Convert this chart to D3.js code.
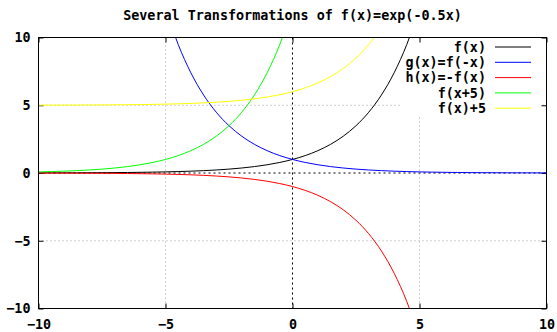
<!DOCTYPE html>
<html>
<head>
<meta charset="utf-8">
<script src="https://cdn.jsdelivr.net/npm/d3@7"></script>
<style>
  html, body { margin: 0; padding: 0; background: #fff; }
  svg text { font-family: "DejaVu Sans Mono", monospace; font-weight: bold; font-size: 13.4px; fill: #000; }
</style>
</head>
<body>
<svg id="chart" width="557" height="332"></svg>
<script>
// Sample positions along x
const xs = [-10,-9.5,-9,-8.5,-8,-7.5,-7,-6.5,-6,-5.5,-5,-4.5,-4,-3.5,-3,-2.5,-2,-1.5,-1,-0.5,
            0,0.5,1,1.5,2,2.5,3,3.5,4,4.5,5,5.5,6,6.5,7,7.5,8,8.5,9,9.5,10];

// Series values at each sample (null = outside the plotted range)
const fVals = [0.007,0.009,0.011,0.014,0.018,0.023,0.030,0.039,0.050,0.064,0.082,0.105,0.135,0.174,0.223,0.287,0.368,0.472,0.607,0.779,
               1.000,1.284,1.649,2.117,2.718,3.490,4.482,5.755,7.389,9.488,12.18,null,null,null,null,null,null,null,null,null,null];
const gVals = [null,null,null,null,null,null,null,null,null,null,12.18,9.488,7.389,5.755,4.482,3.490,2.718,2.117,1.649,1.284,
               1.000,0.779,0.607,0.472,0.368,0.287,0.223,0.174,0.135,0.105,0.082,0.064,0.050,0.039,0.030,0.023,0.018,0.014,0.011,0.009,0.007];
const hVals = [-0.007,-0.009,-0.011,-0.014,-0.018,-0.023,-0.030,-0.039,-0.050,-0.064,-0.082,-0.105,-0.135,-0.174,-0.223,-0.287,-0.368,-0.472,-0.607,-0.779,
               -1.000,-1.284,-1.649,-2.117,-2.718,-3.490,-4.482,-5.755,-7.389,-9.488,-12.18,null,null,null,null,null,null,null,null,null,null];
const shiftVals = [0.082,0.105,0.135,0.174,0.223,0.287,0.368,0.472,0.607,0.779,1.000,1.284,1.649,2.117,2.718,3.490,4.482,5.755,7.389,9.488,
                   12.18,null,null,null,null,null,null,null,null,null,null,null,null,null,null,null,null,null,null,null,null];
const liftVals = [5.007,5.009,5.011,5.014,5.018,5.023,5.030,5.039,5.050,5.064,5.082,5.105,5.135,5.174,5.223,5.287,5.368,5.472,5.607,5.779,
                  6.000,6.284,6.649,7.117,7.718,8.490,9.482,10.755,null,null,null,null,null,null,null,null,null,null,null,null,null];

const seriesNames = ["f(x)", "g(x)=f(-x)", "h(x)=-f(x)", "f(x+5)", "f(x)+5"];
const seriesValues = [fVals, gVals, hVals, shiftVals, liftVals];
const seriesColors = ["#000000", "#0000ff", "#ff0000", "#00ff00", "#ffff00"];

const xTicks = [-10, -5, 0, 5, 10];
const yTicks = [-10, -5, 0, 5, 10];
const title = "Several Transformations of f(x)=exp(-0.5x)";

const svg = d3.select("#chart");
const plotLeft = 38.5, plotRight = 546.5, plotTop = 37.5, plotBottom = 308.5;

const x = d3.scaleLinear().domain([-10, 10]).range([plotLeft, plotRight]);
const y = d3.scaleLinear().domain([-10, 10]).range([plotBottom, plotTop]);

svg.append("defs").append("clipPath").attr("id", "plotClip")
  .append("rect").attr("x", plotLeft).attr("y", plotTop)
  .attr("width", plotRight - plotLeft).attr("height", plotBottom - plotTop);

// Grid at the inner ticks
const grid = svg.append("g");
[-5, 5].forEach(v => {
  grid.append("line").attr("x1", x(v)).attr("x2", x(v)).attr("y1", plotTop).attr("y2", plotBottom)
    .attr("stroke", "#a0a0a0").attr("stroke-width", 1).attr("stroke-dasharray", "1,3");
  grid.append("line").attr("x1", plotLeft).attr("x2", plotRight).attr("y1", y(v)).attr("y2", y(v))
    .attr("stroke", "#a0a0a0").attr("stroke-width", 1).attr("stroke-dasharray", "1,3");
});
// Zero axes
grid.append("line").attr("x1", x(0)).attr("x2", x(0)).attr("y1", plotTop).attr("y2", plotBottom)
  .attr("stroke", "#000").attr("stroke-width", 1).attr("stroke-dasharray", "2,3");
grid.append("line").attr("x1", plotLeft).attr("x2", plotRight).attr("y1", y(0)).attr("y2", y(0))
  .attr("stroke", "#000").attr("stroke-width", 1).attr("stroke-dasharray", "2,3");

// Key area keeps the grid clear behind it
svg.append("rect").attr("x", 402).attr("y", 40).attr("width", 138).attr("height", 76).attr("fill", "#fff");

// Axes with inward ticks on all four sides
const tickLen = 5;
svg.append("g").attr("transform", `translate(0,${plotBottom})`)
  .call(d3.axisBottom(x).tickValues(xTicks).tickSize(-tickLen).tickPadding(11).tickFormat(d3.format("d")))
  .call(g => { g.select(".domain").remove(); g.selectAll("text").attr("font-size", null).attr("font-family", null); });
svg.append("g").attr("transform", `translate(0,${plotTop})`)
  .call(d3.axisTop(x).tickValues(xTicks).tickSize(-tickLen).tickFormat(""))
  .call(g => g.select(".domain").remove());
svg.append("g").attr("transform", `translate(${plotLeft},0)`)
  .call(d3.axisLeft(y).tickValues(yTicks).tickSize(-tickLen).tickPadding(8).tickFormat(d3.format("d")))
  .call(g => { g.select(".domain").remove(); g.selectAll("text").attr("font-size", null).attr("font-family", null); });
svg.append("g").attr("transform", `translate(${plotRight},0)`)
  .call(d3.axisRight(y).tickValues(yTicks).tickSize(-tickLen).tickFormat(""))
  .call(g => g.select(".domain").remove());

// Curves
const line = d3.line()
  .defined(d => d[1] !== null)
  .x(d => x(d[0]))
  .y(d => y(d[1]))
  .curve(d3.curveMonotoneX);

const curves = svg.append("g").attr("clip-path", "url(#plotClip)");
seriesValues.forEach((vals, i) => {
  curves.append("path")
    .datum(xs.map((xv, j) => [xv, vals[j]]))
    .attr("fill", "none")
    .attr("stroke", seriesColors[i])
    .attr("stroke-width", 1)
    .attr("d", line);
});

// Frame
svg.append("rect").attr("x", plotLeft).attr("y", plotTop)
  .attr("width", plotRight - plotLeft).attr("height", plotBottom - plotTop)
  .attr("fill", "none").attr("stroke", "#000").attr("stroke-width", 1);

// Key entries
const key = svg.append("g");
seriesNames.forEach((name, i) => {
  const ry = 47 + i * 15.3;
  key.append("text").attr("x", 486).attr("y", ry).attr("dy", "0.35em").attr("text-anchor", "end").text(name);
  key.append("line").attr("x1", 495).attr("x2", 531).attr("y1", ry).attr("y2", ry)
    .attr("stroke", seriesColors[i]).attr("stroke-width", 1);
});

// Title
svg.append("text").attr("x", (plotLeft + plotRight) / 2).attr("y", 19.5).attr("text-anchor", "middle").text(title);
</script>
</body>
</html>
